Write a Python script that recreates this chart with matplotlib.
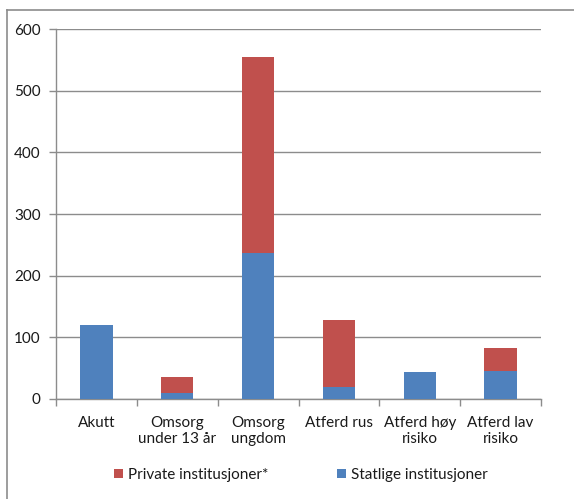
import matplotlib
matplotlib.use("Agg")
import matplotlib.pyplot as plt
from matplotlib.lines import Line2D
import numpy as np

categories = ["Akutt", "Omsorg\nunder 13 år", "Omsorg\nungdom", "Atferd rus", "Atferd høy\nrisiko", "Atferd lav\nrisiko"]
statlige = [120, 10, 237, 20, 44, 45]
private = [0, 25, 317, 108, 0, 38]
yticks = [0, 100, 200, 300, 400, 500, 600]

plt.rcParams['font.family'] = ['Lato', 'DejaVu Sans']
plt.rcParams['font.size'] = 11

W, H = 574, 499
fig = plt.figure(figsize=(W / 100, H / 100), dpi=100)
ax = fig.add_axes([56 / W, 1 - 399 / H, (541 - 56) / W, (399 - 29) / H])

x = np.arange(len(categories))
blue = "#4F81BD"
red = "#C0504D"
b1 = ax.bar(x, statlige, width=0.4, color=blue, zorder=3, label="Statlige institusjoner")
b2 = ax.bar(x, private, width=0.4, bottom=statlige, color=red, zorder=3, label="Private institusjoner*")

ax.set_xlim(-0.5, len(categories) - 0.5)
ax.set_ylim(0, 600)
ax.set_yticks(yticks)
ax.yaxis.grid(True, color="#8C8C8C", linewidth=1.0, zorder=0)
for s in ["top", "right"]:
    ax.spines[s].set_visible(False)
for s in ["left", "bottom"]:
    ax.spines[s].set_color("#8C8C8C")
    ax.spines[s].set_linewidth(1.0)

ax.set_xticks(x)
ax.set_xticklabels(categories, color="#1A1A1A", linespacing=1.2)
ax.tick_params(axis="x", length=0, pad=12)
ax.set_xticks(np.arange(-0.5, len(categories)), minor=True)
ax.tick_params(axis="x", which="minor", length=5, color="#8C8C8C", width=1.0)
ax.tick_params(axis="y", length=5, color="#8C8C8C", width=1.0, pad=6, labelcolor="#1A1A1A")

leg = fig.legend(handles=[b2, b1], labels=["Private institusjoner*", "Statlige institusjoner"],
                 loc="center", bbox_to_anchor=(301 / W, 1 - 475 / H), ncol=2, frameon=False,
                 handlelength=0.6, handleheight=0.6, handletextpad=0.3, columnspacing=4.5)
for t in leg.get_texts():
    t.set_color("#1A1A1A")

# outer chart border (top and left visible)
fig.add_artist(Line2D([7 / W, 1.0], [1 - 10 / H, 1 - 10 / H], transform=fig.transFigure, color="#8C8C8C", linewidth=1.2))
fig.add_artist(Line2D([7 / W, 7 / W], [0.0, 1 - 10 / H], transform=fig.transFigure, color="#8C8C8C", linewidth=1.2))

fig.savefig("out.png", dpi=100)
